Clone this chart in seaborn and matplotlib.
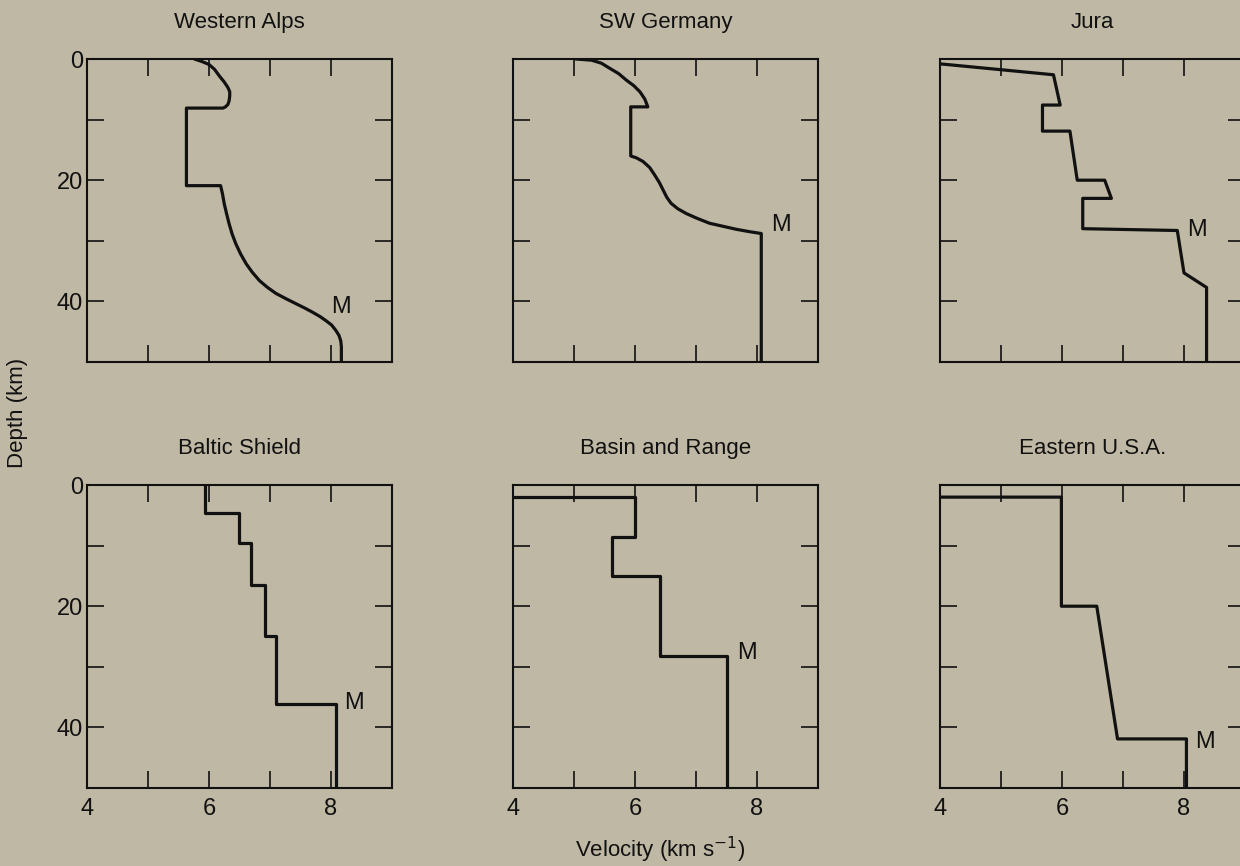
import matplotlib
matplotlib.use("Agg")
import matplotlib.pyplot as plt
import seaborn as sns
import pandas as pd

# Crustal P-wave velocity-depth profiles (velocity in km/s, depth in km)
regions = ["Western Alps", "SW Germany", "Jura",
           "Baltic Shield", "Basin and Range", "Eastern U.S.A."]

alps_v = [5.76, 5.88, 6.00, 6.09, 6.17, 6.25, 6.31, 6.34, 6.34, 6.33, 6.31, 6.27, 6.23,
          5.63, 5.63, 6.19,
          6.22, 6.25, 6.29, 6.33, 6.38, 6.44, 6.52, 6.61, 6.71, 6.83, 6.96, 7.10,
          7.27, 7.43, 7.57, 7.70, 7.82, 7.92, 8.01, 8.08, 8.13, 8.16, 8.17, 8.17]
alps_d = [0.0, 0.4, 0.9, 1.7, 2.8, 3.8, 4.7, 5.4, 6.1, 6.9, 7.5, 7.9, 8.1,
          8.1, 20.9, 20.9,
          22.2, 23.9, 25.6, 27.2, 28.9, 30.5, 32.2, 33.8, 35.2, 36.6, 37.7, 38.7,
          39.6, 40.4, 41.1, 41.8, 42.5, 43.2, 43.9, 44.8, 45.6, 46.5, 47.5, 50.0]

germany_v = [5.03, 5.29, 5.45, 5.58, 5.73, 5.86, 5.98, 6.08, 6.16, 6.21,
             5.93, 5.93, 6.02, 6.13, 6.24, 6.32, 6.40, 6.46, 6.52, 6.59,
             6.70, 6.84, 7.02, 7.22, 7.44, 7.66, 7.88, 8.07, 8.07]
germany_d = [0.0, 0.2, 0.7, 1.5, 2.4, 3.5, 4.4, 5.4, 6.6, 7.9,
             7.9, 16.0, 16.3, 16.9, 17.9, 19.1, 20.4, 21.6, 22.8, 23.8,
             24.7, 25.5, 26.3, 27.1, 27.6, 28.1, 28.5, 28.8, 50.0]

jura_v = [4.00, 5.86, 5.97, 5.68, 5.68, 6.13, 6.25, 6.70, 6.81, 6.34,
          6.34, 7.89, 8.00, 8.37, 8.37]
jura_d = [0.8, 2.6, 7.6, 7.6, 11.9, 11.9, 20.0, 20.0, 23.0, 23.0,
          28.0, 28.3, 35.3, 37.7, 50.0]

baltic_v = [5.93, 5.93, 6.49, 6.49, 6.69, 6.69, 6.92, 6.92, 7.10, 7.10, 8.08, 8.08]
baltic_d = [0.0, 4.7, 4.7, 9.5, 9.5, 16.5, 16.5, 24.9, 24.9, 36.2, 36.2, 50.0]

basin_v = [4.00, 6.00, 6.00, 5.62, 5.62, 6.41, 6.41, 7.50, 7.50]
basin_d = [2.0, 2.0, 8.5, 8.5, 15.0, 15.0, 28.2, 28.2, 50.0]

eastus_v = [4.00, 5.99, 5.99, 6.57, 6.91, 8.04, 8.04]
eastus_d = [2.0, 2.0, 20.0, 20.0, 41.9, 41.9, 50.0]

# Position of the Moho label "M" in each panel (velocity, depth)
moho_v = [8.17, 8.39, 8.22, 8.38, 7.84, 8.35]
moho_d = [40.9, 27.4, 28.2, 35.9, 27.7, 42.4]

velocity_ticks = [4, 5, 6, 7, 8, 9]
velocity_labels = ["4", "", "6", "", "8", ""]
depth_ticks = [0, 10, 20, 30, 40, 50]
depth_labels = ["0", "", "20", "", "40", ""]

profiles = [(alps_v, alps_d), (germany_v, germany_d), (jura_v, jura_d),
            (baltic_v, baltic_d), (basin_v, basin_d), (eastus_v, eastus_d)]

paper = "#bfb8a4"
ink = "#111111"

sns.set_theme(style="ticks")
plt.rcParams["font.family"] = ["Liberation Sans", "DejaVu Sans"]
plt.rcParams["axes.linewidth"] = 1.5

W, H = 1240, 866
fig = plt.figure(figsize=(W / 100, H / 100), dpi=100, facecolor=paper)

col_left = [87, 513, 940]
row_top = [59, 485]
ax_w, ax_h = 305, 303

for i, (name, (v, d)) in enumerate(zip(regions, profiles)):
    r, c = divmod(i, 3)
    ax = fig.add_axes([col_left[c] / W, 1 - (row_top[r] + ax_h) / H, ax_w / W, ax_h / H])
    ax.set_facecolor(paper)
    df = pd.DataFrame({"velocity": v, "depth": d})
    sns.lineplot(data=df, x="velocity", y="depth", sort=False, estimator=None,
                 color=ink, linewidth=2.3, legend=False, ax=ax)
    for ln in ax.get_lines():
        ln.set_solid_joinstyle("round")
    ax.set_xlim(4, 9)
    ax.set_ylim(50, 0)
    ax.set_xticks(velocity_ticks)
    ax.set_yticks(depth_ticks)
    ax.set_xticklabels(velocity_labels if r == 1 else [""] * 6)
    ax.set_yticklabels(depth_labels if c == 0 else [""] * 6)
    ax.tick_params(direction="in", length=12, width=1.2, top=True, right=True,
                   labelsize=17, colors=ink, pad=3)
    ax.tick_params(axis="x", pad=7)
    for s in ax.spines.values():
        s.set_color(ink)
        s.set_linewidth(1.5)
    ax.set_xlabel("")
    ax.set_ylabel("")
    ax.set_title(name, fontsize=16, color=ink, pad=22)
    ax.text(moho_v[i], moho_d[i], "M", fontsize=17, color=ink,
            ha="center", va="center")

fig.text(18 / W, 1 - 413 / H, "Depth (km)", rotation=90, ha="center", va="center",
         fontsize=16, color=ink)
fig.text(660 / W, 1 - 850 / H, "Velocity (km s$^{-1}$)", ha="center", va="center",
         fontsize=16, color=ink)

fig.savefig("out.png", dpi=100, facecolor=paper)
